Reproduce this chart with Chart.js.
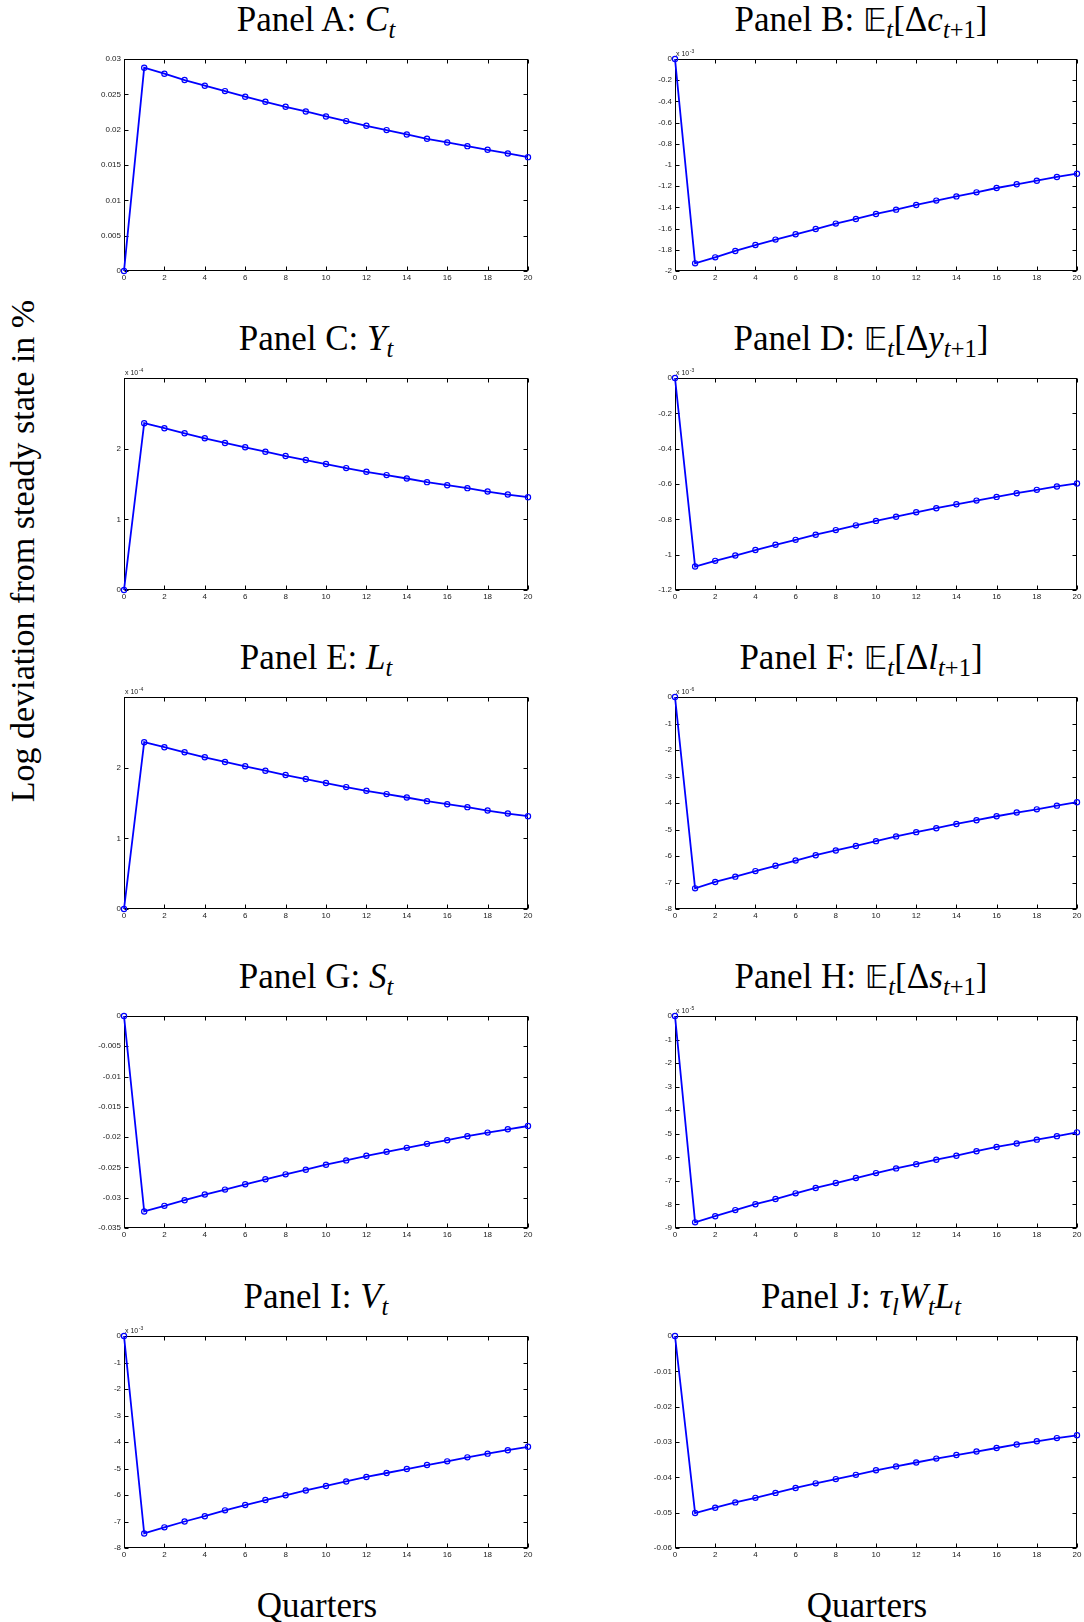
<!DOCTYPE html>
<html>
<head>
<meta charset="utf-8">
<script src="https://cdn.jsdelivr.net/npm/chart.js@4.4.0/dist/chart.umd.min.js"></script>
<style>
  body { margin: 0; background: #fff; width: 1084px; height: 1622px; position: relative; overflow: hidden;
         font-family: "Liberation Serif", "DejaVu Serif", serif; color: #000; }
  canvas { position: absolute; }
  .title { position: absolute; font-size: 35px; line-height: 35px; white-space: nowrap; transform: translateX(-50%); }
  .title sub { font-size: 0.7em; line-height: 0; vertical-align: -0.28em; }
  .bb { font-family: "DejaVu Sans", sans-serif; font-size: 0.92em; }
  .ylab { position: absolute; left: 23px; top: 551px; font-size: 34px; white-space: nowrap;
          transform: translate(-50%, -50%) rotate(-90deg); }
  .xlab { position: absolute; font-size: 35px; white-space: nowrap; transform: translate(-50%, -50%); }
</style>
</head>
<body>
<div class="ylab">Log deviation from steady state in %</div>
<div class="xlab" style="left:317px;top:1606px">Quarters</div>
<div class="xlab" style="left:867px;top:1606px">Quarters</div>
<script>
// quarters after the shock
const quarters = [0,1,2,3,4,5,6,7,8,9,10,11,12,13,14,15,16,17,18,19,20];

// responses (in the units shown on each axis, i.e. before the x 10^k factor)
const panelA = [0, 0.02877, 0.02792, 0.02702, 0.02622, 0.02546, 0.02466, 0.02395, 0.02324, 0.02258, 0.02187,
                0.02121, 0.02055, 0.01994, 0.01932, 0.01871, 0.01819, 0.01767, 0.01715, 0.01663, 0.01611];
const panelB = [0, -1.928, -1.871, -1.811, -1.755, -1.704, -1.654, -1.604, -1.553, -1.509, -1.462,
                -1.421, -1.377, -1.336, -1.296, -1.258, -1.217, -1.182, -1.148, -1.113, -1.082];
const panelC = [0, 2.36, 2.289, 2.218, 2.147, 2.081, 2.019, 1.957, 1.896, 1.839, 1.782,
                1.725, 1.673, 1.626, 1.578, 1.526, 1.483, 1.441, 1.393, 1.351, 1.313];
const panelD = [0, -1.067, -1.035, -1.005, -0.974, -0.944, -0.916, -0.887, -0.861, -0.834, -0.809,
                -0.785, -0.760, -0.737, -0.715, -0.694, -0.673, -0.652, -0.633, -0.614, -0.597];
const panelE = [0, 2.36, 2.289, 2.218, 2.147, 2.081, 2.019, 1.957, 1.896, 1.839, 1.782,
                1.725, 1.673, 1.626, 1.578, 1.526, 1.483, 1.441, 1.393, 1.351, 1.313];
const panelF = [0, -7.22, -6.98, -6.78, -6.57, -6.37, -6.17, -5.97, -5.79, -5.62, -5.44,
                -5.26, -5.10, -4.95, -4.79, -4.65, -4.50, -4.36, -4.24, -4.10, -3.97];
const panelG = [0, -0.03227, -0.03134, -0.03041, -0.02948, -0.02866, -0.02778, -0.02696, -0.02614, -0.02538, -0.02455,
                -0.02384, -0.02308, -0.02242, -0.02177, -0.02111, -0.02051, -0.01985, -0.01925, -0.0187, -0.01816];
const panelH = [0, -8.76, -8.50, -8.24, -7.99, -7.77, -7.53, -7.30, -7.09, -6.88, -6.67,
                -6.47, -6.29, -6.10, -5.93, -5.74, -5.56, -5.41, -5.25, -5.10, -4.94];
const panelI = [0, -7.45, -7.22, -7.00, -6.80, -6.58, -6.38, -6.19, -6.01, -5.83, -5.66,
                -5.49, -5.32, -5.17, -5.02, -4.87, -4.73, -4.58, -4.44, -4.31, -4.18];
const panelJ = [0, -0.0501, -0.0486, -0.0471, -0.0458, -0.0444, -0.0430, -0.0417, -0.0405, -0.0393, -0.0380,
                -0.0369, -0.0358, -0.0347, -0.0337, -0.0327, -0.0317, -0.0307, -0.0298, -0.0289, -0.0281];

// y axis ranges, tick steps and exponents
const yMins  = [0, -2, 0, -1.2, 0, -8, -0.035, -9, -8, -0.06];
const yMaxs  = [0.03, 0, 3, 0, 3, 0, 0, 0, 0, 0];
const ySteps = [0.005, 0.2, 1, 0.2, 1, 1, 0.005, 1, 1, 0.01];
const yExpos = [null, '-3', '-4', '-3', '-4', '-6', null, '-5', '-3', null];

const titles = [
  'Panel A: <i>C</i><sub><i>t</i></sub>',
  'Panel B: <span class="bb">𝔼</span><sub><i>t</i></sub>[Δ<i>c</i><sub><i>t</i>+1</sub>]',
  'Panel C: <i>Y</i><sub><i>t</i></sub>',
  'Panel D: <span class="bb">𝔼</span><sub><i>t</i></sub>[Δ<i>y</i><sub><i>t</i>+1</sub>]',
  'Panel E: <i>L</i><sub><i>t</i></sub>',
  'Panel F: <span class="bb">𝔼</span><sub><i>t</i></sub>[Δ<i>l</i><sub><i>t</i>+1</sub>]',
  'Panel G: <i>S</i><sub><i>t</i></sub>',
  'Panel H: <span class="bb">𝔼</span><sub><i>t</i></sub>[Δ<i>s</i><sub><i>t</i>+1</sub>]',
  'Panel I: <i>V</i><sub><i>t</i></sub>',
  'Panel J: <i>τ</i><sub><i>l</i></sub><i>W</i><sub><i>t</i></sub><i>L</i><sub><i>t</i></sub>'
];
const series = [panelA, panelB, panelC, panelD, panelE, panelF, panelG, panelH, panelI, panelJ];

// draws the matlab style box with inward ticks and the exponent label
const boxTicks = {
  id: 'boxTicks',
  beforeDatasetsDraw(chart, args, opts) {
    const { ctx, chartArea: a, scales: { x, y } } = chart;
    const L = Math.round(a.left) + 0.5, R = Math.round(a.right) - 0.5;
    const T = Math.round(a.top) + 0.5, B = Math.round(a.bottom) - 0.5;
    ctx.save();
    ctx.strokeStyle = '#000';
    ctx.lineWidth = 1;
    ctx.strokeRect(L, T, R - L, B - T);
    ctx.beginPath();
    x.ticks.forEach(t => {
      const px = Math.round(x.getPixelForValue(t.value)) + 0.5;
      ctx.moveTo(px, B); ctx.lineTo(px, B - 4);
      ctx.moveTo(px, T); ctx.lineTo(px, T + 4);
    });
    y.ticks.forEach(t => {
      const py = Math.round(y.getPixelForValue(t.value)) + 0.5;
      ctx.moveTo(L, py); ctx.lineTo(L + 4, py);
      ctx.moveTo(R, py); ctx.lineTo(R - 4, py);
    });
    ctx.stroke();
    if (opts.expo) {
      ctx.fillStyle = '#222';
      ctx.font = '7px "Liberation Sans", Arial, sans-serif';
      ctx.textBaseline = 'alphabetic';
      ctx.fillText('x 10', a.left + 1, a.top - 3);
      const w = ctx.measureText('x 10').width;
      ctx.font = '5px "Liberation Sans", Arial, sans-serif';
      ctx.fillText(opts.expo, a.left + 1 + w + 0.5, a.top - 6);
    }
    ctx.restore();
  }
};

const plotTops = [59, 378, 697, 1016, 1336];
const plotH = 212;
const tickFont = { family: '"Liberation Sans", Arial, sans-serif', size: 8 };
const fmt = v => String(+v.toFixed(6));

series.forEach((vals, i) => {
  const col = i % 2, row = Math.floor(i / 2);
  const canvasLeft = col === 0 ? 64 : 615;
  const canvasW = col === 0 ? 480 : 469;
  const padRight = col === 0 ? 16 : 7;
  const top = plotTops[row];

  const cv = document.createElement('canvas');
  cv.width = canvasW; cv.height = plotH + 12 + 16;
  cv.style.left = canvasLeft + 'px';
  cv.style.top = (top - 12) + 'px';
  cv.style.width = canvasW + 'px';
  cv.style.height = (plotH + 28) + 'px';
  document.body.appendChild(cv);

  const tt = document.createElement('div');
  tt.className = 'title';
  tt.innerHTML = titles[i];
  tt.style.left = (col === 0 ? 316 : 861) + 'px';
  tt.style.top = (top - 57) + 'px';
  document.body.appendChild(tt);

  const hideTop = yMaxs[i] === 3;
  new Chart(cv, {
    type: 'line',
    data: {
      datasets: [{
        data: quarters.map((q, k) => ({ x: q, y: vals[k] })),
        borderColor: '#0000ff',
        borderWidth: 1.8,
        pointRadius: 2.6,
        pointBorderWidth: 1.2,
        pointBorderColor: '#0000ff',
        pointBackgroundColor: 'rgba(255,255,255,0)',
        tension: 0,
        clip: false
      }]
    },
    options: {
      animation: false,
      responsive: false,
      devicePixelRatio: 1,
      layout: { padding: { top: 12, right: padRight, left: 0, bottom: 0 } },
      plugins: { legend: { display: false }, tooltip: { enabled: false }, boxTicks: { expo: yExpos[i] } },
      scales: {
        x: {
          type: 'linear', min: 0, max: 20,
          ticks: { stepSize: 2, font: tickFont, color: '#222', padding: 2, maxRotation: 0, autoSkip: false, callback: fmt },
          grid: { display: false, drawTicks: false },
          border: { display: false },
          afterFit(s) { s.height = 16; }
        },
        y: {
          min: yMins[i], max: yMaxs[i],
          ticks: { stepSize: ySteps[i], font: tickFont, color: '#222', padding: 3, autoSkip: false,
                   callback: v => (hideTop && v === 3) ? '' : fmt(v) },
          grid: { display: false, drawTicks: false },
          border: { display: false },
          afterFit(s) { s.width = 60; }
        }
      }
    },
    plugins: [boxTicks]
  });
});
</script>
</body>
</html>
